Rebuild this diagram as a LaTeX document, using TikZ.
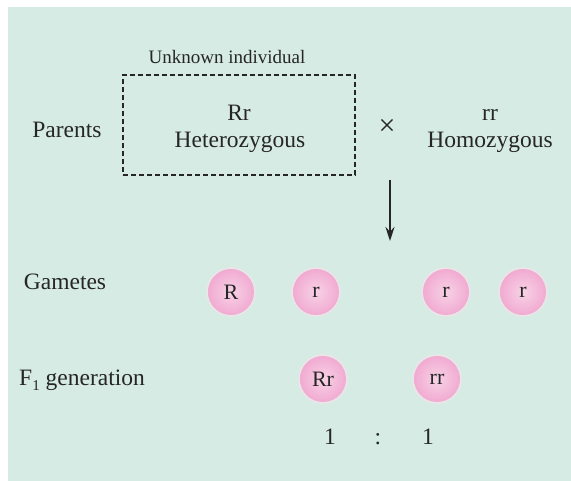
\documentclass[tikz,border=0pt]{standalone}
\usepackage{fontspec}
\setmainfont{Liberation Serif}
\usetikzlibrary{arrows.meta}
\definecolor{bg}{HTML}{D6EBE3}
\definecolor{ink}{HTML}{262626}
\definecolor{pinkin}{HTML}{F8D2E6}
\definecolor{pinkmid}{HTML}{F0A6CF}
\definecolor{pinkout}{HTML}{D9609F}
\definecolor{halo}{HTML}{F0E4EA}
\pgfdeclareradialshading{gamete}{\pgfpoint{0bp}{0bp}}{color(0bp)=(pinkin); color(28bp)=(pinkmid); color(50bp)=(pinkout)}
\begin{document}
\begin{tikzpicture}[x=1pt,y=-1pt,
  txt/.style={text=ink,font=\fontsize{23.5}{26}\selectfont,inner sep=0pt,anchor=base},
  small/.style={text=ink,font=\fontsize{19}{22}\selectfont,inner sep=0pt,anchor=base},
  gam/.style={circle,minimum size=46pt,inner sep=0pt,shading=gamete,text=ink,
    font=\fontsize{22}{24}\selectfont,
    preaction={draw=halo,line width=4pt,opacity=0.7}},
  dbox/.style={draw=ink,dashed,dash pattern=on 5pt off 3pt,line width=1.5pt,minimum width=232pt,minimum height=100pt,inner sep=0pt}]
\useasboundingbox (0,0) rectangle (571,481);
\fill[white] (0,0) rectangle (571,481);
\fill[bg] (8,7) rectangle (571,481);
% parents row
\node[small] (unk) at (227,64) {Unknown individual};
\node[dbox] (box) at (239,125) {};
\node[txt] (rr1) at (239,121) {Rr};
\node[txt] (het) at (240,148) {Heterozygous};
\node[txt] (par) at (67,138) {Parents};
\node[text=ink,inner sep=0pt,font=\fontsize{30}{30}\selectfont] (cross) at (387,127) {×};
\node[txt] (rr2) at (490,121) {rr};
\node[txt] (hom) at (490,148) {Homozygous};
\coordinate (a1) at (390,180);
\coordinate (a2) at (390,241);
\draw[line width=1.4pt,ink,-{Stealth[length=14pt,width=9pt]}] (a1) -- (a2);
% gametes
\node[txt] (gl) at (65,290) {Gametes};
\node[gam] (g1) at (231,292) {R};
\node[gam] (g2) at (316,292) {r};
\node[gam] (g3) at (446,292) {r};
\node[gam] (g4) at (523,292) {r};
% F1
\node[txt] (fl) at (82,386) {F\raisebox{-0.4ex}{\fontsize{15}{15}\selectfont 1} generation};
\node[gam] (f1) at (323,379) {Rr};
\node[gam] (f2) at (437,379) {rr};
\node[txt] (n1) at (330,445) {1};
\node[txt] (col) at (378,445) {:};
\node[txt] (n2) at (428,445) {1};
\end{tikzpicture}
\end{document}
